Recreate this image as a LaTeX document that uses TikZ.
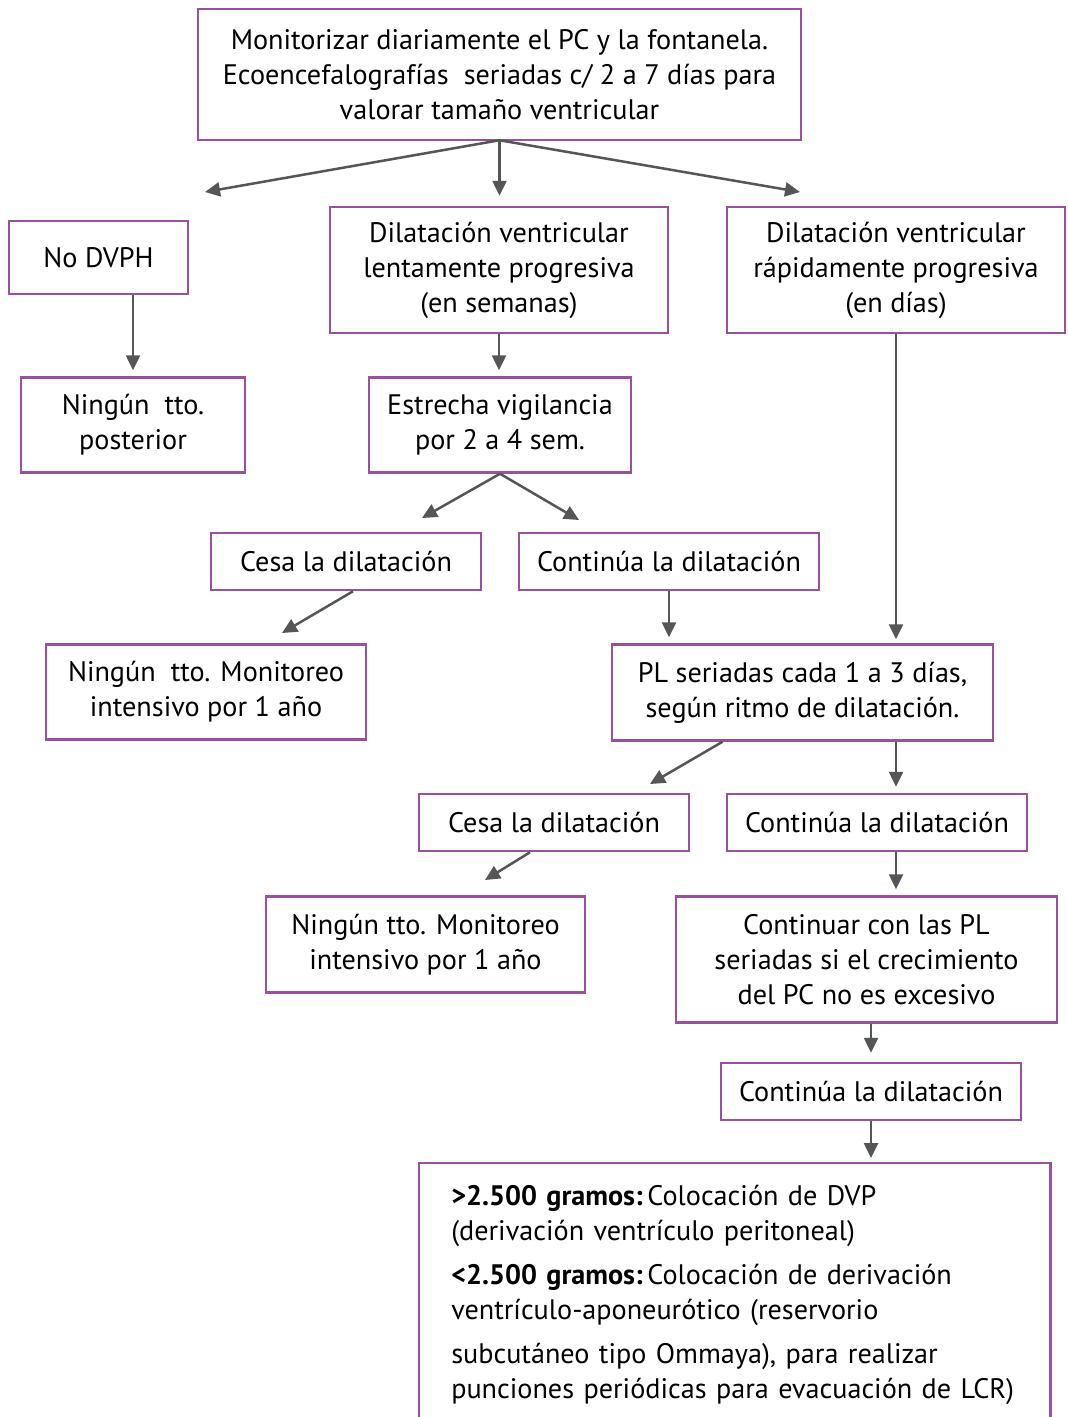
\documentclass[tikz,border=0pt]{standalone}
\usepackage{fontspec}
\setmainfont{PT Sans}
\usepackage{tikz}
\usetikzlibrary{arrows.meta, calc}

\definecolor{boxpurple}{HTML}{9B4F9F}
\definecolor{arrowgray}{HTML}{555658}
\newcommand{\boxfont}{\fontsize{28.2}{35}\selectfont}

\begin{document}
\begin{tikzpicture}[
    x=1pt, y=-1pt,
    box/.style={rectangle, draw=boxpurple, line width=2.5pt, align=center, inner sep=0pt, font=\boxfont},
    boxline/.style={draw=boxpurple, line width=2.5pt},
    arrow/.style={-{Triangle[length=15pt, width=14pt]}, draw=arrowgray, line width=2.5pt},
    down/.style={arrow, shorten >=6pt},
]
\useasboundingbox (0,0) rectangle (1068,1417);

% Nodes
\node[box, minimum width=603, minimum height=131] (monitor) at (499.5,74.5) {Monitorizar diariamente el PC y la fontanela.\\Ecoencefalografías\ \ seriadas c/ 2 a 7 días para\\valorar tamaño ventricular};
\node[box, minimum width=179, minimum height=73] (nodvph) at (98.5,257.5) {No DVPH};
\node[box, minimum width=338, minimum height=126] (lenta) at (499,270) {Dilatación ventricular\\lentamente progresiva\\(en semanas)};
\node[box, minimum width=338, minimum height=126] (rapida) at (896,270) {Dilatación ventricular\\rápidamente progresiva\\(en días)};

\node[box, minimum width=224, minimum height=95] (ningun0) at (133,425) {Ningún\ \ tto.\\posterior};
\node[box, minimum width=262, minimum height=95] (vigil) at (500,425) {Estrecha vigilancia\\por 2 a 4 sem.};

\node[box, minimum width=270, minimum height=57] (cesa1) at (346,561.5) {Cesa la dilatación};
\node[box, minimum width=300, minimum height=57] (cont1) at (669,561.5) {Continúa la dilatación};

\node[box, minimum width=320, minimum height=95] (ningun1) at (206,692) {Ningún\ \ tto. Monitoreo\\intensivo por 1 año};
\node[box, minimum width=381, minimum height=96] (pl) at (802.5,692.5) {PL seriadas cada 1 a 3 días,\\según ritmo de dilatación.};

\node[box, minimum width=270, minimum height=57] (cesa2) at (554,822.5) {Cesa la dilatación};
\node[box, minimum width=300, minimum height=57] (cont2) at (877,822.5) {Continúa la dilatación};

\node[box, minimum width=319, minimum height=96] (ningun2) at (425.5,944.5) {Ningún tto. Monitoreo\\intensivo por 1 año};
\node[box, minimum width=381, minimum height=126] (seguir) at (866.5,959.5) {Continuar con las PL\\seriadas si el crecimiento\\del PC no es excesivo};

\node[box, minimum width=300, minimum height=57] (cont3) at (871,1091.5) {Continúa la dilatación};

\node[box, draw=none, anchor=north west, text width=567, inner xsep=31, minimum height=246, align=left] (final) at (419,1171) {%
\textbf{>2.500 gramos:}\,Colocación de DVP\\
(derivación ventrículo peritoneal)\\[9pt]
\textbf{<2.500 gramos:}\,Colocación de derivación\\
ventrículo-aponeurótico (reservorio\\[9pt]
subcutáneo tipo Ommaya), para realizar\\
punciones periódicas para evacuación de LCR)};
\draw[boxline] (final.south west) -- ([yshift=8]final.north west) -- ([yshift=8]final.north east) -- (final.south east);

% Arrow ends
\coordinate (toleft) at (205,192);
\coordinate (toright) at (800,192);
\coordinate (vigleft) at (422,518);
\coordinate (vigright) at (579,520);
\coordinate (cesaend1) at (282,633);
\coordinate (plend) at (650,784);
\coordinate (cesaend2) at (485,880);

% Arrows
\draw[arrow] ([yshift=1]monitor.south) -- (toleft);
\draw[arrow, shorten >=10pt] ([yshift=1]monitor.south) -- (monitor.south |- lenta.north);
\draw[arrow] ([yshift=1]monitor.south) -- (toright);

\draw[down] (ningun0.north |- nodvph.south) -- (ningun0.north);
\draw[down] (lenta.south) -- (lenta.south |- vigil.north);
\draw[arrow] (rapida.south) -- ++(0,305);

\draw[arrow] (vigil.south) -- (vigleft);
\draw[arrow] (vigil.south) -- (vigright);

\draw[arrow] ([xshift=7]cesa1.south) -- (cesaend1);
\draw[down] (cont1.south) -- (cont1.south |- pl.north);

\draw[arrow] ([xshift=-80]pl.south) -- (plend);
\draw[down] (rapida.south |- pl.south) -- (rapida.south |- cont2.north);

\draw[arrow] ([xshift=-24]cesa2.south) -- (cesaend2);
\draw[down] (rapida.south |- cont2.south) -- (rapida.south |- seguir.north);

\draw[arrow, shorten >=9pt] (cont3.north |- seguir.south) -- (cont3.north);
\draw[arrow, shorten >=5pt] (cont3.south) -- ([yshift=8]cont3.south |- final.north);

\end{tikzpicture}
\end{document}
